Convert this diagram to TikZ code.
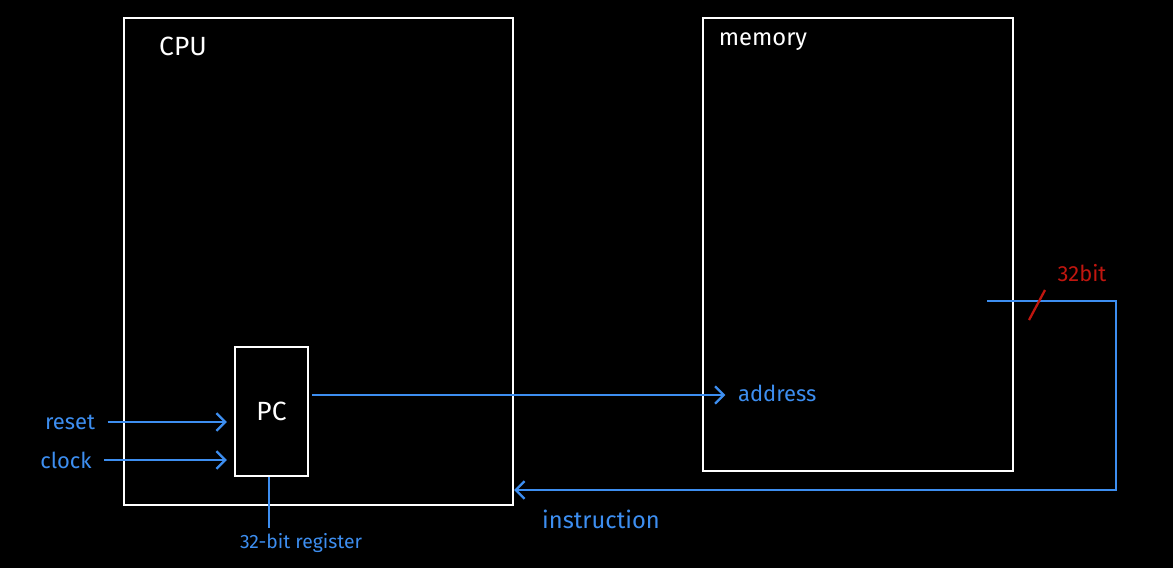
\documentclass[tikz,border=0pt]{standalone}
\usepackage{fontspec}
\setmainfont{Fira Sans}
\usetikzlibrary{positioning,arrows.meta}

\definecolor{wireblue}{HTML}{3D8EF0}
\definecolor{markred}{HTML}{C0160F}

\begin{document}
\begin{tikzpicture}[x=0.02cm, y=-0.02cm, node distance=0.2cm,
  box/.style={draw=white, line width=1.3pt, inner sep=0pt},
  wire/.style={draw=wireblue, line width=1.3pt},
  arr/.style={wire, -{Straight Barb[length=5pt,width=10pt]}},
  lbl/.style={text=wireblue, inner sep=1pt, font=\fontsize{12.5}{14}\selectfont},
  title/.style={text=white, inner sep=0pt, font=\fontsize{15}{18}\selectfont}]
  \fill[black] (0,0) rectangle (1173,568);
  \useasboundingbox (0,0) rectangle (1173,568);

  % blocks
  \node[box, minimum width=7.78cm, minimum height=9.74cm] (cpu) at (318.5,261.5) {};
  \node[box, minimum width=6.2cm, minimum height=9.06cm] (mem) at (858,244.5) {};
  \node[box, minimum width=1.46cm, minimum height=2.58cm, text=white,
        font=\fontsize{15}{18}\selectfont] (pc) at (271.5,411.5) {PC};
  \node[title] (cpulbl) at (183,46) {CPU};
  \node[title, font=\fontsize{13.5}{16}\selectfont] (memlbl) at (763,42) {memory};

  % inputs
  \node[lbl] (reset) at (70,422) {reset};
  \node[lbl] (clock) at (66,460) {clock};
  \draw[arr, shorten <=6pt, shorten >=4pt] (reset.east) -- (reset.east -| pc.west);
  \draw[arr, shorten <=6pt, shorten >=4pt] (clock.east) -- (clock.east -| pc.west);

  % register note
  \node[lbl, font=\fontsize{11}{13}\selectfont] (reg) at (301,543) {32-bit register};
  \draw[wire] (pc.south -| 269,0) -- (269,528);

  % pc -> memory
  \node[lbl, anchor=west] (addr) at (736,393) {address};
  \coordinate (pcout) at (312,395);
  \draw[arr, shorten >=6pt] (pcout) -- (pcout -| addr.west);

  % memory -> cpu
  \coordinate (mout) at (987,301);
  \coordinate (turn) at (1116,490);
  \draw[arr] (mout) -| (turn) -- (turn -| cpu.east);
  \node[lbl, font=\fontsize{13.5}{16}\selectfont] (instr) at (601,519) {instruction};

  % bus width
  \coordinate (tick) at (1037,305);
  \draw[markred, line width=1.3pt] ([shift={(-8,15)}]tick) -- ([shift={(8,-15)}]tick);
  \node[text=markred, inner sep=1pt, font=\fontsize{12.5}{14}\selectfont] (width) at (1082,273) {32bit};
\end{tikzpicture}
\end{document}
